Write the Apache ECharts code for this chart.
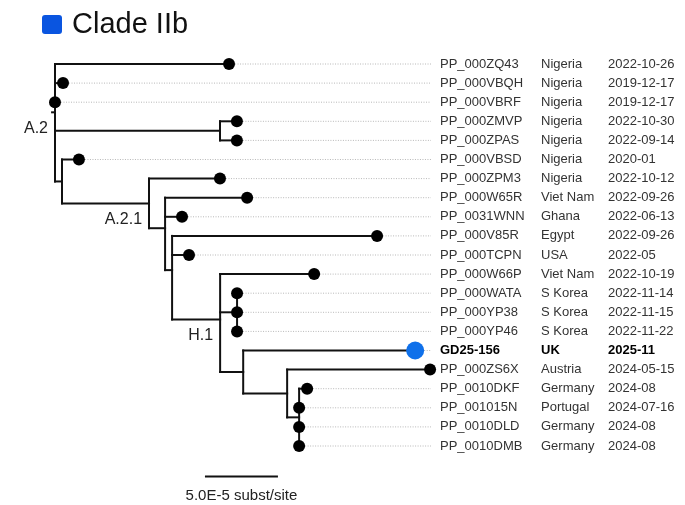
<!DOCTYPE html>
<html><head><meta charset="utf-8">
<script src="https://cdn.jsdelivr.net/npm/echarts@6/dist/echarts.min.js"></script>
<style>html,body{margin:0;padding:0;background:#fff}#c{width:685px;height:505px}</style>
</head><body><div id="c"></div>
<script>
// ---- Data: tree topology and branch lengths (units of 1e-5 subst/site) ----
const nodeNames = ['A.2','PP_000ZQ43','PP_000VBQH','PP_000VBRF','nZM','PP_000ZMVP','PP_000ZPAS','nB','PP_000VBSD','A.2.1','PP_000ZPM3','nC','PP_000W65R','PP_0031WNN','nD','PP_000V85R','PP_000TCPN','H.1','PP_000W66P','nSK','PP_000WATA','PP_000YP38','PP_000YP46','nE','GD25-156','nF','PP_000ZS6X','nG','PP_0010DKF','PP_001015N','PP_0010DLD','PP_0010DMB'];
const nodeParents = [null,'A.2','A.2','A.2','A.2','nZM','nZM','A.2','nB','nB','A.2.1','A.2.1','nC','nC','nC','nD','nD','nD','H.1','H.1','nSK','nSK','nSK','H.1','nE','nE','nF','nF','nG','nG','nG','nG'];
const branchLengths = [0,11.92,0.55,0,11.30,1.16,1.16,0.48,1.16,5.96,4.86,1.10,5.62,1.16,0.48,14.04,1.16,3.29,6.44,1.16,0,0,0,1.58,11.78,3.01,9.79,0.82,0.55,0,0,0];

// ---- Data: tip metadata in display order ----
const tipIds = ['PP_000ZQ43','PP_000VBQH','PP_000VBRF','PP_000ZMVP','PP_000ZPAS','PP_000VBSD','PP_000ZPM3','PP_000W65R','PP_0031WNN','PP_000V85R','PP_000TCPN','PP_000W66P','PP_000WATA','PP_000YP38','PP_000YP46','GD25-156','PP_000ZS6X','PP_0010DKF','PP_001015N','PP_0010DLD','PP_0010DMB'];
const tipCountries = ['Nigeria','Nigeria','Nigeria','Nigeria','Nigeria','Nigeria','Nigeria','Viet Nam','Ghana','Egypt','USA','Viet Nam','S Korea','S Korea','S Korea','UK','Austria','Germany','Portugal','Germany','Germany'];
const tipDates = ['2022-10-26','2019-12-17','2019-12-17','2022-10-30','2022-09-14','2020-01','2022-10-12','2022-09-26','2022-06-13','2022-09-26','2022-05','2022-10-19','2022-11-14','2022-11-15','2022-11-22','2025-11','2024-05-15','2024-08','2024-07-16','2024-08','2024-08'];
const highlightTip = 'GD25-156';
const cladeLabels = ['A.2','A.2.1','H.1'];
const scaleBarLength = 5;          // 5.0E-5 subst/site
const scaleBarLabel = '5.0E-5 subst/site';
const titleText = 'Clade IIb';

// ---- Layout computation ----
const X = {}, Y = {}, kids = {};
nodeNames.forEach((n, i) => {
  const p = nodeParents[i];
  X[n] = (p ? X[p] : 0) + branchLengths[i];
  kids[n] = [];
  if (p) kids[p].push(n);
});
tipIds.forEach((t, i) => { Y[t] = i; });
for (let i = nodeNames.length - 1; i >= 0; i--) {
  const n = nodeNames[i];
  if (kids[n].length) Y[n] = kids[n].reduce((s, c) => s + Y[c], 0) / kids[n].length;
}
const segs = [];
nodeNames.forEach((n, i) => {
  const p = nodeParents[i];
  if (p) segs.push([X[p], Y[n], X[n], Y[n]]);
  if (kids[n].length) {
    const ys = kids[n].map(c => Y[c]);
    segs.push([X[n], Math.min(...ys), X[n], Math.max(...ys)]);
  }
});
const root = nodeNames[0];
segs.push([X[root] - 0.2, Y[root], X[root], Y[root]]);

const tipData = tipIds.map((t, i) => ({
  value: [X[t], Y[t], i],
  symbolSize: t === highlightTip ? 18 : 12,
  itemStyle: { color: t === highlightTip ? '#0f70ea' : '#000', opacity: 1 }
}));
const FONT = '"Liberation Sans", Arial, Helvetica, sans-serif';
const LEADER_END = 431, COL_ID = 440, COL_CTRY = 541, COL_DATE = 608;

const chart = echarts.init(document.getElementById('c'), null, { renderer: 'canvas' });
chart.setOption({
  animation: false,
  backgroundColor: '#fff',
  grid: { left: 55, right: 192, top: 64, bottom: 59 },
  xAxis: { type: 'value', min: 0, max: 30, show: false },
  yAxis: { type: 'value', min: 0, max: 20, inverse: true, show: false },
  graphic: [
    { type: 'rect', shape: { x: 42, y: 15, width: 20, height: 19, r: 3 }, style: { fill: '#0a55e0' } },
    { type: 'text', x: 72, y: 25, style: { text: titleText, font: '29px ' + FONT, fill: '#111', textVerticalAlign: 'middle' } }
  ],
  series: [
    { // dotted leaders
      type: 'custom', z: 1, silent: true,
      data: tipIds.map(t => [X[t], Y[t], t === highlightTip ? 9 : 6]),
      renderItem(params, api) {
        const p = api.coord([api.value(0), api.value(1)]);
        return { type: 'line', shape: { x1: p[0] + api.value(2), y1: p[1], x2: LEADER_END, y2: p[1] },
          style: { stroke: '#b8b8b8', lineWidth: 1, lineDash: [1, 1.5] } };
      }
    },
    { // branches
      type: 'custom', z: 2, silent: true,
      data: segs,
      renderItem(params, api) {
        const a = api.coord([api.value(0), api.value(1)]);
        const b = api.coord([api.value(2), api.value(3)]);
        return { type: 'line', shape: { x1: a[0], y1: a[1], x2: b[0], y2: b[1] },
          style: { stroke: '#111', lineWidth: 2, lineCap: 'square' } };
      }
    },
    { // tip dots
      type: 'scatter', z: 3, symbol: 'circle', data: tipData, silent: true,
      itemStyle: { opacity: 1 }
    },
    { // tip labels
      type: 'custom', z: 4, silent: true,
      data: tipIds.map((t, i) => [X[t], Y[t], i]),
      renderItem(params, api) {
        const i = api.value(2);
        const p = api.coord([api.value(0), api.value(1)]);
        const hl = tipIds[i] === highlightTip;
        const f = (hl ? 'bold ' : '') + '13px ' + FONT;
        const col = hl ? '#000' : '#333';
        const mk = (x, txt) => ({ type: 'text', x: x, y: p[1], style: { text: txt, font: f, fill: col, textVerticalAlign: 'middle' } });
        return { type: 'group', children: [mk(COL_ID, tipIds[i]), mk(COL_CTRY, tipCountries[i]), mk(COL_DATE, tipDates[i])] };
      }
    },
    { // clade labels
      type: 'custom', z: 4, silent: true,
      data: cladeLabels.map((n, i) => [X[n], Y[n], i]),
      renderItem(params, api) {
        const p = api.coord([api.value(0), api.value(1)]);
        return { type: 'text', x: p[0] - 7, y: p[1] + 16,
          style: { text: cladeLabels[api.value(2)], font: '16px ' + FONT, fill: '#222', textAlign: 'right', textVerticalAlign: 'middle' } };
      }
    },
    { // scale bar
      type: 'custom', z: 4, silent: true,
      data: [[10.27, 21.6, 10.27 + scaleBarLength]],
      renderItem(params, api) {
        const a = api.coord([api.value(0), api.value(1)]);
        const b = api.coord([api.value(2), api.value(1)]);
        return { type: 'group', children: [
          { type: 'line', shape: { x1: a[0], y1: a[1], x2: b[0], y2: b[1] }, style: { stroke: '#111', lineWidth: 2 } },
          { type: 'text', x: (a[0] + b[0]) / 2, y: a[1] + 19, style: { text: scaleBarLabel, font: '15px ' + FONT, fill: '#222', textAlign: 'center', textVerticalAlign: 'middle' } }
        ] };
      }
    }
  ]
});
</script></body></html>
